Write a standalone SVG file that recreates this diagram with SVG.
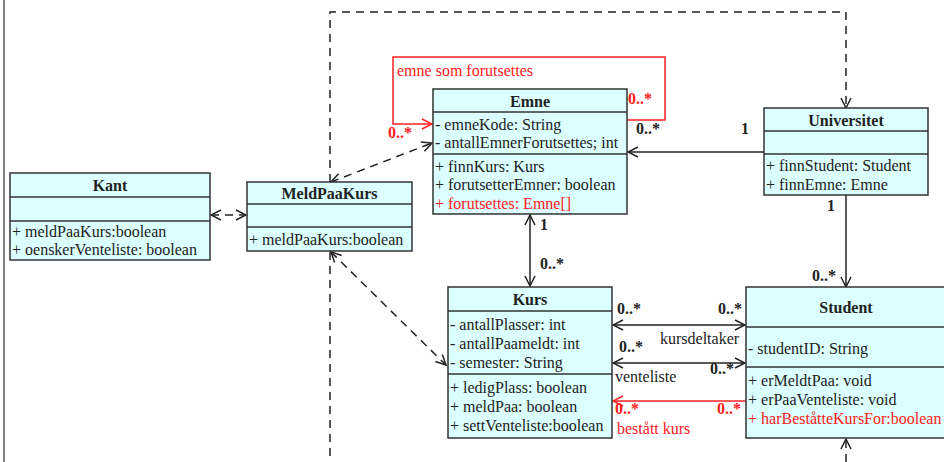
<svg xmlns="http://www.w3.org/2000/svg" width="944" height="462" viewBox="0 0 944 462" font-family="'Liberation Serif', 'Times New Roman', serif">
<defs>
<style>
.box{fill:#dcffff;stroke:#333;stroke-width:1.5}
.sep{stroke:#333;stroke-width:1.5}
text{font-family:'Liberation Serif','Times New Roman',serif;font-size:16px;fill:#222}
.t{font-weight:bold;font-size:16px;text-anchor:middle}
.m{font-weight:bold;font-size:16px}
.r{fill:#ff2020}
.ln{fill:none;stroke:#222;stroke-width:1.5}
.dl{fill:none;stroke:#222;stroke-width:1.5;stroke-dasharray:8,6}
.rl{fill:none;stroke:#ff2020;stroke-width:1.5}
</style>
<marker id="a" viewBox="0 0 12 12" refX="11" refY="6" markerWidth="12" markerHeight="12" markerUnits="userSpaceOnUse" orient="auto-start-reverse"><path d="M1,1 L11,6 L1,11" fill="none" stroke="#222" stroke-width="1.5"/></marker>
<marker id="ar" viewBox="0 0 12 12" refX="11" refY="6" markerWidth="12" markerHeight="12" markerUnits="userSpaceOnUse" orient="auto-start-reverse"><path d="M1,1 L11,6 L1,11" fill="none" stroke="#ff2020" stroke-width="1.5"/></marker>
</defs>
<rect width="944" height="462" fill="#fff"/>
<line x1="4" y1="0" x2="4" y2="462" stroke="#808080" stroke-width="2"/>

<g id="connectors">
<polyline class="dl" points="330,182 330,12 846,12 846,108" marker-end="url(#a)"/>
<line class="dl" x1="330" y1="252" x2="330" y2="462"/>
<line class="dl" x1="846" y1="462" x2="846" y2="439" marker-end="url(#a)"/>
<line class="dl" x1="211" y1="215" x2="246" y2="215" marker-start="url(#a)" marker-end="url(#a)"/>
<line class="dl" x1="331" y1="182" x2="432" y2="143" marker-start="url(#a)" marker-end="url(#a)"/>
<line class="dl" x1="331" y1="252" x2="446" y2="365" marker-start="url(#a)" marker-end="url(#a)"/>
<line class="ln" x1="764" y1="152" x2="628" y2="152" marker-end="url(#a)"/>
<line class="ln" x1="846" y1="195" x2="846" y2="287" marker-end="url(#a)"/>
<line class="ln" x1="530" y1="215" x2="530" y2="286" marker-start="url(#a)" marker-end="url(#a)"/>
<line class="ln" x1="613" y1="325" x2="745" y2="325" marker-start="url(#a)" marker-end="url(#a)"/>
<line class="ln" x1="613" y1="363" x2="745" y2="363" marker-start="url(#a)" marker-end="url(#a)"/>
<line class="rl" x1="746" y1="401" x2="613" y2="401" marker-end="url(#ar)"/>
<polyline class="rl" points="627,120 665,120 665,57 393,57 393,124 432,124" marker-end="url(#ar)"/>
<text x="397" y="76" class="r">emne som forutsettes</text>
<text x="628" y="104" class="m r">0..*</text>
<text x="388" y="138" class="m r">0..*</text>
<text x="636" y="134" class="m">0..*</text>
<text x="741" y="134" class="m">1</text>
<text x="827" y="211" class="m">1</text>
<text x="812" y="281" class="m">0..*</text>
<text x="540" y="230" class="m">1</text>
<text x="540" y="269" class="m">0..*</text>
<text x="617" y="314" class="m">0..*</text>
<text x="718" y="314" class="m">0..*</text>
<text x="660" y="344">kursdeltaker</text>
<text x="619" y="352" class="m">0..*</text>
<text x="710" y="374" class="m">0..*</text>
<text x="615" y="382">venteliste</text>
<text x="615" y="414" class="m r">0..*</text>
<text x="717" y="414" class="m r">0..*</text>
<text x="617" y="434" class="r">bestått kurs</text>
</g>

<g id="Kant">
<rect class="box" x="10" y="173" width="200" height="87"/>
<line class="sep" x1="10" y1="197" x2="210" y2="197"/>
<line class="sep" x1="10" y1="221" x2="210" y2="221"/>
<text x="110" y="191" class="t">Kant</text>
<text x="12" y="237">+ meldPaaKurs:boolean</text>
<text x="12" y="255">+ oenskerVenteliste: boolean</text>
</g>

<g id="MeldPaaKurs">
<rect class="box" x="247" y="182" width="165" height="69"/>
<line class="sep" x1="247" y1="204" x2="412" y2="204"/>
<line class="sep" x1="247" y1="227" x2="412" y2="227"/>
<text x="329.5" y="199" class="t">MeldPaaKurs</text>
<text x="249" y="245">+ meldPaaKurs:boolean</text>
</g>

<g id="Emne">
<rect class="box" x="433" y="89" width="194" height="125"/>
<line class="sep" x1="433" y1="112" x2="627" y2="112"/>
<line class="sep" x1="433" y1="154" x2="627" y2="154"/>
<text x="530" y="107" class="t">Emne</text>
<text x="435" y="130">- emneKode: String</text>
<text x="435" y="148">- antallEmnerForutsettes; int</text>
<text x="435" y="172">+ finnKurs: Kurs</text>
<text x="435" y="190">+ forutsetterEmner: boolean</text>
<text x="435" y="209" class="r">+ forutsettes: Emne[]</text>
</g>

<g id="Universitet">
<rect class="box" x="764" y="108" width="164" height="87"/>
<line class="sep" x1="764" y1="131" x2="928" y2="131"/>
<line class="sep" x1="764" y1="154" x2="928" y2="154"/>
<text x="846" y="126" class="t">Universitet</text>
<text x="766" y="171">+ finnStudent: Student</text>
<text x="766" y="190">+ finnEmne: Emne</text>
</g>

<g id="Kurs">
<rect class="box" x="448" y="287" width="164" height="151"/>
<line class="sep" x1="448" y1="311" x2="612" y2="311"/>
<line class="sep" x1="448" y1="374" x2="612" y2="374"/>
<text x="530" y="305" class="t">Kurs</text>
<text x="450" y="330">- antallPlasser: int</text>
<text x="450" y="349">- antallPaameldt: int</text>
<text x="450" y="368">- semester: String</text>
<text x="450" y="393">+ ledigPlass: boolean</text>
<text x="450" y="412">+ meldPaa: boolean</text>
<text x="450" y="431">+ settVenteliste:boolean</text>
</g>

<g id="Student">
<rect class="box" x="746" y="287" width="200" height="151"/>
<line class="sep" x1="746" y1="327" x2="946" y2="327"/>
<line class="sep" x1="746" y1="367" x2="946" y2="367"/>
<text x="846" y="313" class="t">Student</text>
<text x="748" y="354">- studentID: String</text>
<text x="748" y="386">+ erMeldtPaa: void</text>
<text x="748" y="405">+ erPaaVenteliste: void</text>
<text x="748" y="424" class="r">+ harBeståtteKursFor:boolean</text>
</g>
</svg>
